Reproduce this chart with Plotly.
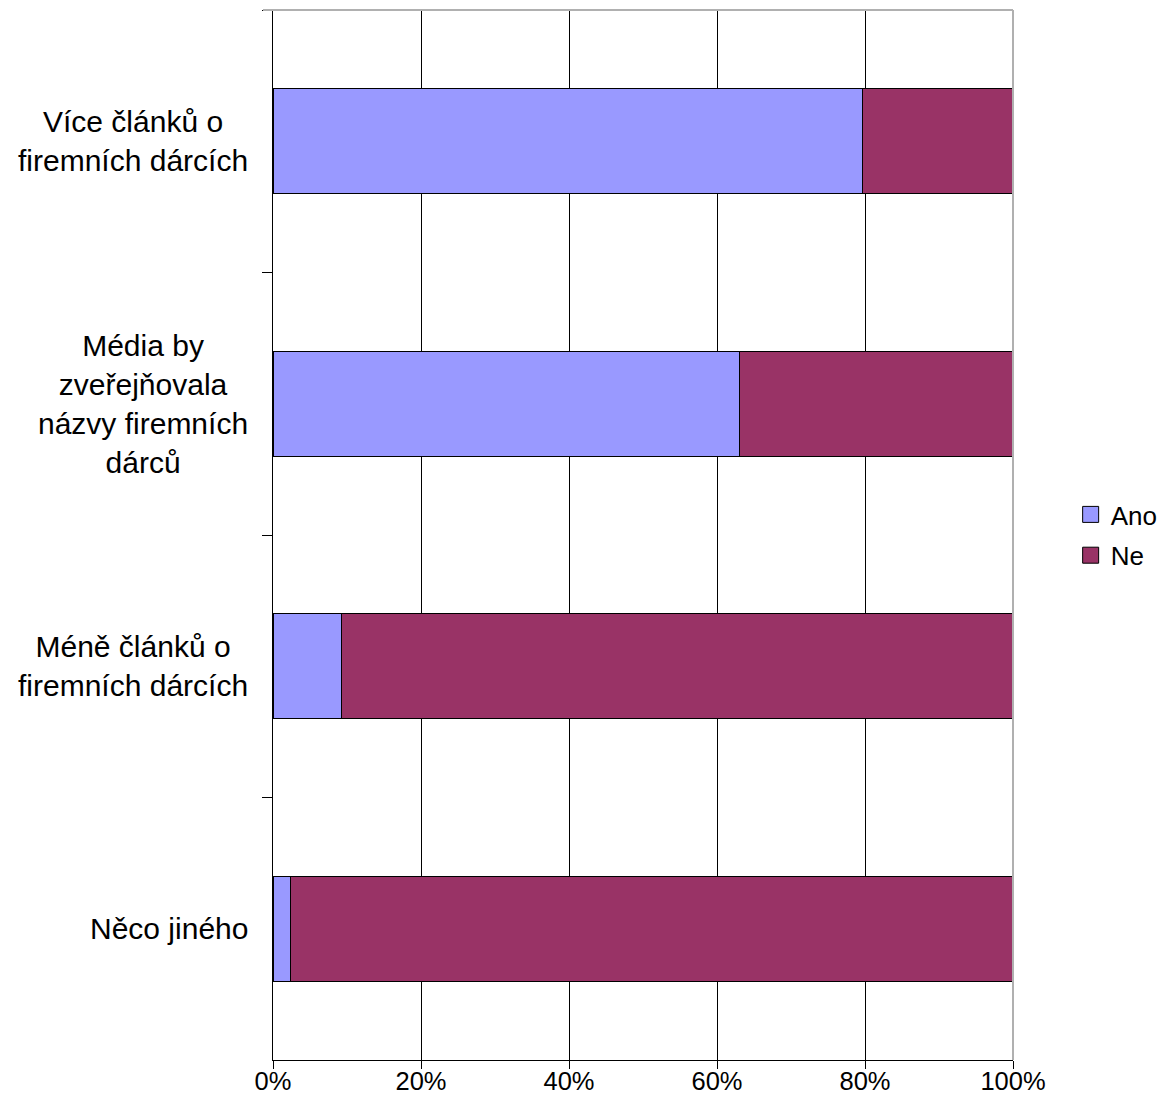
import plotly.graph_objects as go

categories = [
    "Více článků o<br>firemních dárcích",
    "Média by<br>zveřejňovala<br>názvy firemních<br>dárců",
    "Méně článků o<br>firemních dárcích",
    "Něco jiného",
]
series_names = ["Ano", "Ne"]
ano = [79.7, 63.0, 9.2, 2.3]
ne = [20.3, 37.0, 90.8, 97.7]
x_ticks = [0, 20, 40, 60, 80, 100]
x_ticklabels = ["0%", "20%", "40%", "60%", "80%", "100%"]

FONT = "Liberation Sans, Arial, sans-serif"
COLORS = ["#9999FF", "#993366"]

fig = go.Figure()
for name, vals, col in zip(series_names, [ano, ne], COLORS):
    fig.add_trace(go.Bar(
        y=categories, x=vals, name=name, orientation="h", showlegend=False,
        marker=dict(color=col, line=dict(color="#000000", width=1)),
    ))
# legend entries (larger square swatches)
for i, (name, col) in enumerate(zip(series_names, COLORS)):
    fig.add_trace(go.Scatter(
        x=[None], y=[None], mode="markers", name=name, legendgroup=f"g{i}",
        marker=dict(symbol="square", size=16, color=col,
                    line=dict(color="#000000", width=1)),
    ))

for c in categories:
    fig.add_annotation(
        x=0, xref="paper", y=c, yref="y", text=c,
        showarrow=False, xanchor="right", yanchor="middle", align="center",
        xshift=-23,
        font=dict(family=FONT, size=30, color="#000000"),
    )

fig.add_shape(type="line", xref="paper", yref="paper", x0=-0.0135, x1=1, y0=1, y1=1,
              line=dict(color="#b0b0b0", width=2))
fig.add_shape(type="line", xref="paper", yref="paper", x0=1, x1=1, y0=0, y1=1,
              line=dict(color="#b0b0b0", width=2))

fig.update_layout(
    width=1163, height=1102,
    margin=dict(l=265, r=158, t=2, b=50, autoexpand=False),
    barmode="stack", bargap=0.6,
    plot_bgcolor="white", paper_bgcolor="white",
    font=dict(family=FONT, size=25.5, color="#000000"),
    showlegend=True,
    legend=dict(x=1.0725, xanchor="left", y=0.5, yanchor="middle",
                traceorder="grouped", font=dict(size=26), tracegroupgap=4,
                borderwidth=4, bordercolor="rgba(255,255,255,0)",
                bgcolor="rgba(0,0,0,0)"),
    xaxis=dict(range=[0, 100], tickvals=x_ticks, ticktext=x_ticklabels,
               showgrid=True, gridcolor="#000000", gridwidth=1,
               showline=True, linecolor="#000000", linewidth=1,
               ticks="outside", ticklen=8, tickcolor="#000000",
               ticklabelstandoff=-10,
               zeroline=False, fixedrange=True, automargin=False),
    yaxis=dict(categoryorder="array", categoryarray=categories,
               autorange="reversed", tickson="boundaries",
               showticklabels=False, showgrid=False,
               showline=True, linecolor="#000000", linewidth=1,
               ticks="outside", ticklen=10, tickcolor="#000000",
               zeroline=False, fixedrange=True, automargin=False),
)

fig.write_html("out.html")
